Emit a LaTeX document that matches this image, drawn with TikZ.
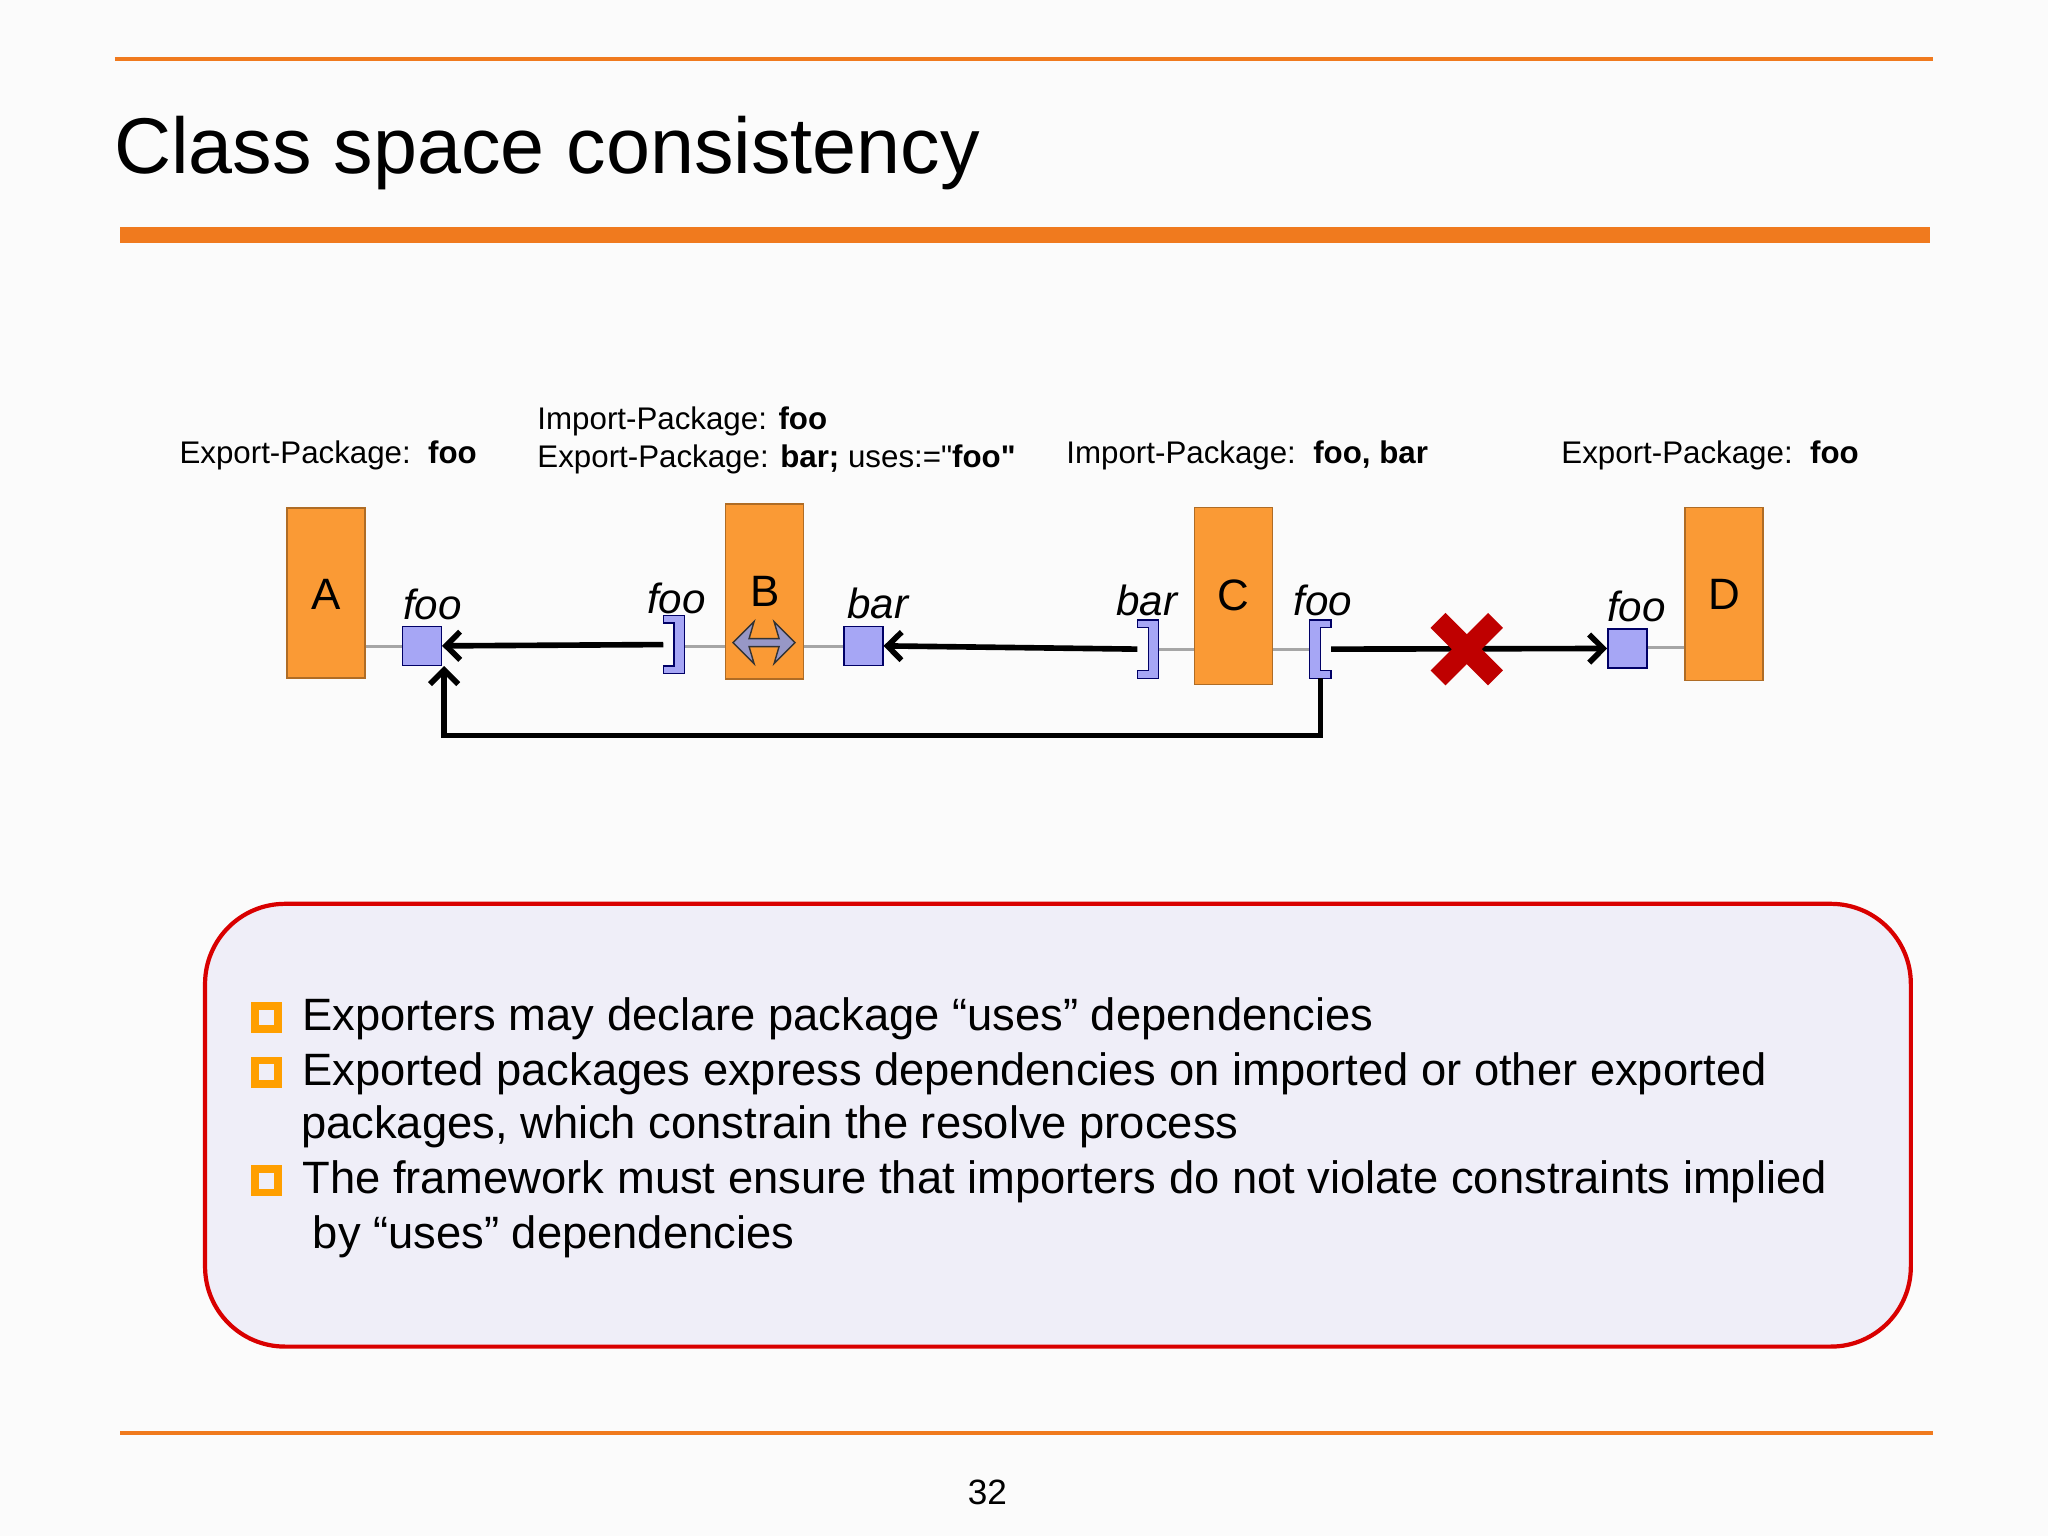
\documentclass[tikz,border=0pt]{standalone}
\usepackage{fontspec}
\setmainfont{Liberation Sans}[Ligatures=TeXOff]
\usetikzlibrary{shapes.arrows,arrows.meta}
\definecolor{orline}{HTML}{F07A1E}
\definecolor{boxor}{HTML}{FA9A35}
\definecolor{lav}{HTML}{A6A6F5}
\definecolor{panel}{HTML}{EFEEF8}
\begin{document}
\begin{tikzpicture}[x=0.01306cm,y=-0.01306cm,
  bundle/.style={draw=boxor!70!black,fill=boxor,minimum width=0.78cm,inner sep=0pt},
  pkg/.style={draw=blue!40!black,fill=lav,minimum size=0.39cm,inner sep=0pt},
  brk/.style={minimum width=0.2cm,minimum height=0.57cm,inner sep=0pt},
  brkdraw/.style={draw=blue!40!black,fill=lav},
  lbl/.style={font=\fontsize{12pt}{14pt}\selectfont\itshape},
  blbl/.style={font=\fontsize{12.5pt}{14pt}\selectfont},
  hdr/.style={anchor=west,font=\fontsize{8.9pt}{10pt}\selectfont},
  wire/.style={draw=gray!70,line width=0.8pt},
  dep/.style={line width=1.6pt,-{Straight Barb[length=4pt,width=8pt]}},
  bul/.style={anchor=west,font=\fontsize{12.9pt}{15pt}\selectfont}]
\useasboundingbox (0,0) rectangle (1568,1176);
\fill[white!97!gray] (0,0) rectangle (1568,1176);
\draw[orline,line width=1.2pt] (88,45) -- (1480,45);
\draw[orline,line width=4.5pt] (92,180) -- (1478,180);
\draw[orline,line width=1.2pt] (92,1097) -- (1480,1097);
\node[anchor=west,font=\fontsize{22.5pt}{26pt}\selectfont] (title) at (78,117) {Class space consistency};
\node[font=\fontsize{10pt}{12pt}\selectfont] (pg) at (756,1143) {32};
% headers
\node[hdr] (h1) at (128,349) {Export-Package:\ \ \textbf{foo}};
\node[hdr] (h2) at (402,323) {Import-Package: \textbf{foo}};
\node[hdr] (h3) at (402,352) {Export-Package: \textbf{bar;} uses:="\textbf{foo"}};
\node[hdr] (h4) at (807,349) {Import-Package:\ \ \textbf{foo, bar}};
\node[hdr] (h5) at (1186,349) {Export-Package:\ \ \textbf{foo}};
% bundles
\node[bundle,minimum height=1.70cm] (A) at (249.5,454) {};
\node[bundle,minimum height=1.75cm] (B) at (585.5,453) {};
\node[bundle,minimum height=1.77cm] (C) at (944.5,456.5) {};
\node[bundle,minimum height=1.73cm] (D) at (1320,455) {};
\node[blbl] (Al) at (249.5,455) {A};
\node[blbl] (Bl) at (585.5,453) {B};
\node[blbl] (Cl) at (944.5,456) {C};
\node[blbl] (Dl) at (1320,455) {D};
% wires
\draw[wire] (A.east|-0,495) -- (308,495);
\draw[wire] (524,495) -- (B.west|-0,495);
\draw[wire] (B.east|-0,495) -- (646,495);
\draw[wire] (887,497) -- (C.west|-0,497);
\draw[wire] (C.east|-0,497) -- (1003,497);
\draw[wire] (1261,496) -- (D.west|-0,496);
% packages
\node[pkg] (pA) at (323,494.5) {};
\node[pkg] (pB) at (661,494.5) {};
\node[pkg] (pD) at (1246,496.5) {};
% brackets
\node[brk] (iB) at (516,493.5) {};
\node[brk] (iCb) at (879,497) {};
\node[brk] (iCf) at (1011,497) {};
\foreach \n in {iB,iCb}{
 \draw[brkdraw] (\n.north west) -- (\n.north east) -- (\n.south east) -- (\n.south west)
   -- ([yshift=2.2pt]\n.south west) -- ([xshift=-3pt,yshift=2.2pt]\n.south east)
   -- ([xshift=-3pt,yshift=-2.2pt]\n.north east) -- ([yshift=-2.2pt]\n.north west) -- cycle;}
\draw[brkdraw] (iCf.north east) -- (iCf.north west) -- (iCf.south west) -- (iCf.south east)
   -- ([yshift=2.2pt]iCf.south east) -- ([xshift=3pt,yshift=2.2pt]iCf.south west)
   -- ([xshift=3pt,yshift=-2.2pt]iCf.north west) -- ([yshift=-2.2pt]iCf.north east) -- cycle;
% labels
\node[lbl] (lA) at (331,463) {foo};
\node[lbl] (lB) at (518,458) {foo};
\node[lbl] (lBb) at (672,462) {bar};
\node[lbl] (lCb) at (878,460) {bar};
\node[lbl] (lCf) at (1013,460) {foo};
\node[lbl] (lD) at (1253,464) {foo};
% uses arrow inside B
\node[double arrow,draw=black!80,fill=lav!60!gray,minimum width=0.42cm,minimum height=0.62cm,double arrow head extend=0.03cm,double arrow head indent=0.05cm,inner sep=0pt] (ua) at (585,492) {};
% dependencies
\draw[dep] (iB.west) -- (pA.east);
\draw[dep] (iCb.west) -- (pB.east);
\draw[dep] (iCf.east) -- (pD.west);
\draw[dep] (iCf.south) -- (iCf.south|-0,563) -- (340,563) -- (pA.south-|340,0);
% cross
\coordinate (X) at (1123,497);
\draw[red!75!black,line width=6pt] ([shift={(-22,-22)}]X) -- ([shift={(22,22)}]X);
\draw[red!75!black,line width=6pt] ([shift={(22,-22)}]X) -- ([shift={(-22,22)}]X);
% panel
\draw[red!85!black,fill=panel,line width=1.2pt,rounded corners=0.8cm] (157,692) rectangle (1463,1031);
\foreach \yy in {779,821,904}{\draw[draw=orange!75!yellow,line width=2.2pt] (195,\yy-9) rectangle (213,\yy+9);}
\node[bul] (b1) at (222,780) {Exporters may declare package “uses” dependencies};
\node[bul] (b2) at (222,822) {Exported packages express dependencies on imported or other exported};
\node[bul] (b2b) at (221,863) {packages, which constrain the resolve process};
\node[bul] (b3) at (222,905) {The framework must ensure that importers do not violate constraints implied};
\node[bul] (b3b) at (230,947) {by “uses” dependencies};
\end{tikzpicture}
\end{document}
